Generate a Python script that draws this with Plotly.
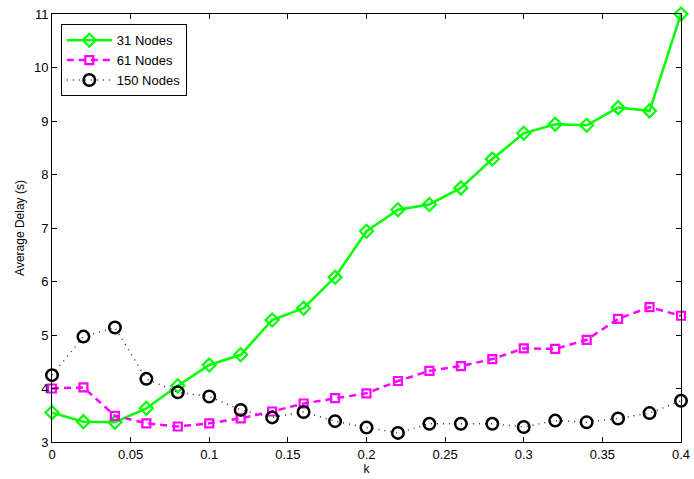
import plotly.graph_objects as go

k_values = [0, 0.02, 0.04, 0.06, 0.08, 0.1, 0.12, 0.14, 0.16, 0.18, 0.2,
            0.22, 0.24, 0.26, 0.28, 0.3, 0.32, 0.34, 0.36, 0.38, 0.4]

delay_31 = [3.55, 3.38, 3.37, 3.63, 4.05, 4.44, 4.63, 5.28, 5.50, 6.08, 6.94,
            7.34, 7.44, 7.75, 8.29, 8.77, 8.94, 8.92, 9.25, 9.19, 11.0]
delay_61 = [4.00, 4.02, 3.49, 3.35, 3.29, 3.35, 3.44, 3.57, 3.72, 3.82, 3.91,
            4.14, 4.33, 4.42, 4.55, 4.75, 4.74, 4.91, 5.30, 5.52, 5.36]
delay_150 = [4.25, 4.97, 5.14, 4.18, 3.93, 3.85, 3.60, 3.46, 3.56, 3.39, 3.27,
             3.17, 3.34, 3.34, 3.34, 3.28, 3.40, 3.37, 3.44, 3.54, 3.77]

x_ticks = [0, 0.05, 0.1, 0.15, 0.2, 0.25, 0.3, 0.35, 0.4]
x_tick_text = ["0", "0.05", "0.1", "0.15", "0.2", "0.25", "0.3", "0.35", "0.4"]
y_ticks = [3, 4, 5, 6, 7, 8, 9, 10, 11]

fig = go.Figure()

fig.add_trace(go.Scatter(
    x=k_values, y=delay_31, name="31 Nodes", mode="lines+markers",
    line=dict(color="#00ff00", width=2.5),
    marker=dict(symbol="diamond-open", size=10, color="#00ff00",
                line=dict(width=2.2, color="#00ff00")),
    cliponaxis=False,
))
fig.add_trace(go.Scatter(
    x=k_values, y=delay_61, name="61 Nodes", mode="lines+markers",
    line=dict(color="#ff00ff", width=2.5, dash="7px,5px"),
    marker=dict(symbol="square-open", size=8, color="#ff00ff",
                line=dict(width=2.2, color="#ff00ff")),
    cliponaxis=False,
))
fig.add_trace(go.Scatter(
    x=k_values, y=delay_150, name="150 Nodes", mode="lines+markers",
    line=dict(color="#333333", width=1.5, dash="1px,5px"),
    marker=dict(symbol="circle-open", size=11.5, color="black",
                line=dict(width=2.5, color="black")),
    cliponaxis=False,
))

axis_common = dict(
    showgrid=False, zeroline=False, showline=True, linecolor="black",
    linewidth=1, mirror="ticks", ticks="inside", ticklen=5,
    tickcolor="black", automargin=False,
    tickfont=dict(family="Liberation Sans, Arial", size=13, color="black"),
)

fig.update_layout(
    width=694, height=479,
    margin=dict(l=52, r=13, t=14, b=37),
    paper_bgcolor="white", plot_bgcolor="white",
    font=dict(family="Liberation Sans, Arial", color="black"),
    xaxis=dict(range=[0, 0.4], tickvals=x_ticks, ticktext=x_tick_text,
               title=dict(text="k", font=dict(size=12), standoff=0), **axis_common),
    yaxis=dict(range=[3, 11], tickvals=y_ticks,
               title=dict(text="Average Delay (s)", font=dict(size=12), standoff=6),
               **axis_common),
    legend=dict(x=0.014, y=0.976, xanchor="left", yanchor="top",
                bordercolor="black", borderwidth=1, bgcolor="white",
                font=dict(size=13), tracegroupgap=0, itemwidth=45),
    showlegend=True,
)

fig.write_html("out.html")
